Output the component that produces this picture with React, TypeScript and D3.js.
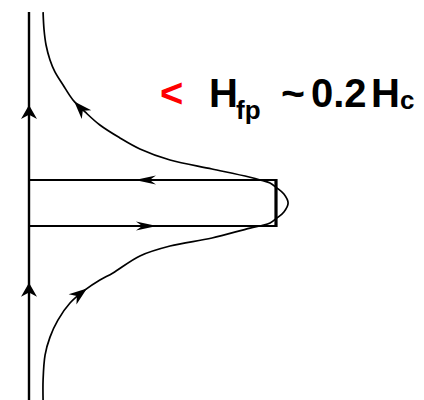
import React, { useEffect, useRef } from "react";
import * as d3 from "d3";

// Field axis: H from 0 (left axis) to 10 (end of the flat loop); M in units where the plateaus sit at ±1.
const upperBranch: [number, number][] = [
  [0.57, 8.3], [0.61, 7.52], [0.69, 6.87], [0.85, 6.22], [1.05, 5.7], [1.38, 5.13],
  [1.78, 4.48], [2.27, 3.96], [2.87, 3.39], [3.68, 2.83], [4.49, 2.35], [5.71, 1.87],
  [7.41, 1.48], [8.91, 1.13], [9.43, 0.98],
];
const capArc: [number, number][] = [
  [9.76, 0.87], [10.04, 0.65], [10.32, 0.39], [10.49, 0], [10.32, -0.39], [10.04, -0.65], [9.76, -0.87],
];
const lowerBranch: [number, number][] = [
  [9.43, -0.98], [8.95, -1.09], [7.41, -1.52], [5.71, -1.87], [4.49, -2.3], [3.4, -3.04],
  [2.87, -3.35], [2.27, -3.78], [1.66, -4.35], [1.17, -5.09], [0.85, -5.83], [0.65, -6.61],
  [0.57, -7.7], [0.57, -8.57],
];
const plateauLevels = [1, -1];
const loopEnd = 10;
const axisRange: [number, number] = [8.3, -8.57];

// Arrows on the outer branch (fraction of its length); both point back against the drawing direction
const curveArrows = [0.14, 0.818];
const plateauArrows = [
  { level: 1, at: 4.29, dir: -1 },
  { level: -1, at: 5.18, dir: 1 },
];
const axisArrows = [4.26, -3.47];

// Label pieces with their left edge and baseline offset
const labelParts = [
  { text: "<", x: 160, dy: 0, size: 40, color: "#ff0000" },
  { text: "H", x: 209, dy: 0, size: 40, color: "#000" },
  { text: "fp", x: 236, dy: 12, size: 26, color: "#000" },
  { text: "~", x: 281, dy: 0, size: 41, color: "#000" },
  { text: "0.2", x: 311, dy: 0, size: 40, color: "#000" },
  { text: "H", x: 371, dy: 0, size: 40, color: "#000" },
  { text: "c", x: 400, dy: 2, size: 26, color: "#000" },
];
const labelBaseline = 107;

const W = 424;
const H = 400;

export default function App() {
  const ref = useRef<SVGSVGElement | null>(null);

  useEffect(() => {
    const svg = d3.select(ref.current);
    svg.selectAll("*").remove();

    const x = d3.scaleLinear().domain([0, 10]).range([29, 276]);
    const y = d3.scaleLinear().domain([-1, 1]).range([226, 180]);

    const g = svg.append("g");

    const arrowHead = (tx: number, ty: number, angle: number, len: number, half: number) => {
      // filled, notched arrowhead pointing along `angle`, tip at (tx, ty)
      const pts: [number, number][] = [
        [0, 0],
        [-len, -half],
        [-len * 0.7, 0],
        [-len, half],
      ];
      const c = Math.cos(angle), s = Math.sin(angle);
      const p = pts.map(([a, b]) => [tx + a * c - b * s, ty + a * s + b * c]);
      g.append("path")
        .attr("d", "M" + p.map((q) => q.join(",")).join("L") + "Z")
        .attr("fill", "#000");
    };

    // vertical axis
    g.append("line")
      .attr("x1", x(0)).attr("x2", x(0))
      .attr("y1", y(axisRange[0])).attr("y2", H)
      .attr("stroke", "#000").attr("stroke-width", 2.4);

    // flat loop: plateaus and right edge
    plateauLevels.forEach((lv) => {
      g.append("line")
        .attr("x1", x(0)).attr("x2", x(loopEnd))
        .attr("y1", y(lv)).attr("y2", y(lv))
        .attr("stroke", "#000").attr("stroke-width", 2.2);
    });
    g.append("line")
      .attr("x1", x(loopEnd)).attr("x2", x(loopEnd))
      .attr("y1", y(1) - 1).attr("y2", y(-1) + 1)
      .attr("stroke", "#000").attr("stroke-width", 3.2);

    // outer branch: down from the top, round the cap, and out to the bottom
    const pts = [...upperBranch, ...capArc, ...lowerBranch];
    const line = d3.line<[number, number]>()
      .x((d) => x(d[0]))
      .y((d) => y(d[1]))
      .curve(d3.curveCatmullRom.alpha(0.5));
    const path = g.append("path")
      .attr("d", line(pts) as string)
      .attr("fill", "none")
      .attr("stroke", "#000")
      .attr("stroke-width", 1.7);

    const node = path.node() as SVGPathElement;
    const total = node.getTotalLength();
    curveArrows.forEach((f) => {
      const a = node.getPointAtLength(total * f);
      const b = node.getPointAtLength(total * f + 3);
      const ang = Math.atan2(a.y - b.y, a.x - b.x);
      arrowHead(a.x, a.y, ang, 18, 6.5);
    });

    plateauArrows.forEach((p) => {
      arrowHead(x(p.at), y(p.level), p.dir < 0 ? Math.PI : 0, 21, 4.5);
    });
    axisArrows.forEach((v) => {
      arrowHead(x(0), y(v), -Math.PI / 2, 14, 8);
    });

    // label
    labelParts.forEach((p) => {
      svg.append("text")
        .attr("x", p.x)
        .attr("y", labelBaseline + p.dy)
        .attr("font-family", "'Liberation Sans', Arial, sans-serif")
        .attr("font-weight", "bold")
        .attr("font-size", p.size)
        .attr("fill", p.color)
        .text(p.text);
    });
  }, []);

  return (
    <svg
      ref={ref}
      width={W}
      height={H}
      style={{ position: "absolute", left: 0, top: 0, background: "#fff" }}
    />
  );
}
